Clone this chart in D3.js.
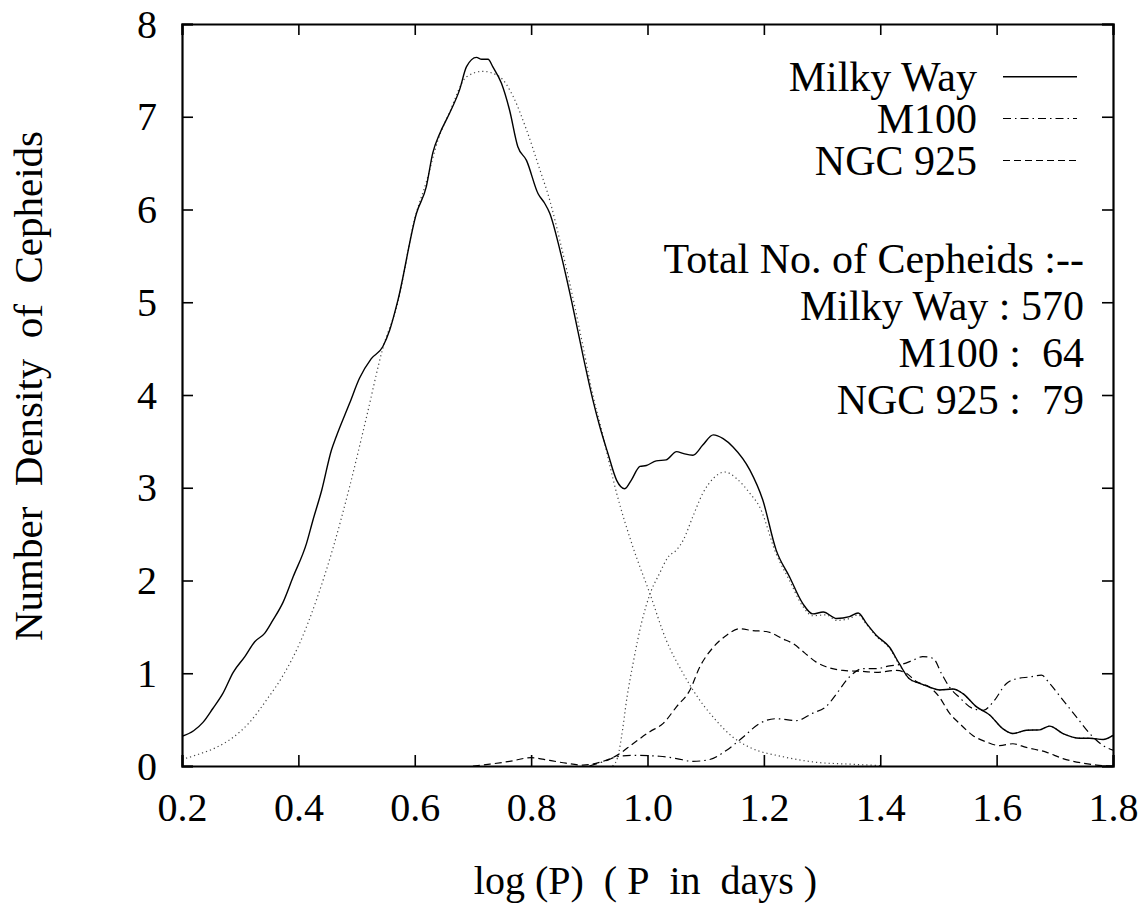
<!DOCTYPE html>
<html>
<head>
<meta charset="utf-8">
<script src="https://cdn.jsdelivr.net/npm/d3@7"></script>
<style>
  html, body { margin: 0; padding: 0; background: #fff; }
  svg { display: block; }
  text { font-family: "Liberation Serif", "Times New Roman", Times, serif; fill: #000; }
</style>
</head>
<body>
<svg id="chart" width="1143" height="911" font-family="Liberation Serif, Times New Roman, serif"></svg>
<script>
// Period distributions of Cepheids: log(P) vs number density

// Milky Way total density (solid)
const mwLogP = [0.20,0.22,0.236,0.253,0.27,0.288,0.308,0.325,0.342,0.356,0.374,0.391,0.414,0.425,0.44,0.457,0.465,0.488,0.505,0.525,0.545,0.557,0.571,0.603,0.62,0.631,0.643,0.66,0.677,0.689,0.706,0.715,0.726,0.734,0.749,0.763,0.777,0.792,0.812,0.823,0.832,0.85,0.87,0.89,0.906,0.918,0.932,0.947,0.961,0.972,0.987,0.998,1.015,1.032,1.05,1.061,1.078,1.095,1.113,1.13,1.147,1.176,1.198,1.221,1.244,1.267,1.284,1.302,1.325,1.347,1.362,1.376,1.393,1.416,1.433,1.45,1.468,1.485,1.502,1.525,1.542,1.565,1.588,1.611,1.628,1.651,1.674,1.691,1.714,1.743,1.76,1.783,1.80];
const mwDensity = [0.32,0.38,0.47,0.62,0.78,1.01,1.18,1.34,1.43,1.57,1.77,2.04,2.40,2.65,2.97,3.41,3.55,3.91,4.18,4.39,4.52,4.70,5.02,5.96,6.25,6.61,6.82,7.04,7.29,7.54,7.64,7.62,7.62,7.54,7.36,7.07,6.68,6.53,6.17,6.07,5.96,5.55,5.0,4.4,3.95,3.66,3.37,3.08,2.99,3.08,3.23,3.24,3.29,3.30,3.39,3.37,3.35,3.46,3.57,3.53,3.44,3.19,2.87,2.33,2.04,1.75,1.64,1.66,1.59,1.61,1.65,1.54,1.41,1.28,1.10,0.94,0.89,0.85,0.82,0.83,0.78,0.64,0.55,0.40,0.35,0.385,0.39,0.43,0.35,0.30,0.30,0.285,0.33];

// Milky Way short-period component (dotted)
const mwShortLogP = [0.20,0.23,0.259,0.288,0.316,0.345,0.374,0.402,0.431,0.46,0.488,0.517,0.545,0.571,0.60,0.62,0.64,0.66,0.689,0.717,0.746,0.769,0.792,0.815,0.832,0.85,0.87,0.89,0.906,0.92,0.947,0.975,1.004,1.032,1.061,1.078,1.118,1.147,1.176,1.233,1.29,1.347,1.40];
const mwShortDensity = [0.07,0.13,0.20,0.31,0.47,0.71,0.98,1.32,1.79,2.36,3.01,3.76,4.50,5.0,5.9,6.3,6.75,7.05,7.43,7.49,7.43,7.22,6.86,6.43,6.1,5.65,5.1,4.5,4.0,3.65,2.94,2.36,1.86,1.36,1.00,0.82,0.49,0.31,0.20,0.10,0.04,0.02,0.005];

// Milky Way long-period component (dotted)
const mwLongLogP = [0.94,0.949,0.955,0.965,0.975,0.99,1.004,1.021,1.035,1.05,1.061,1.078,1.095,1.113,1.133,1.153,1.176,1.193,1.221,1.244,1.267,1.284,1.307,1.325,1.347,1.362,1.376,1.393,1.416,1.433,1.45,1.468,1.485,1.502,1.525,1.542,1.565,1.588,1.611,1.628,1.651,1.674,1.691,1.714,1.743,1.76,1.783,1.80];
const mwLongDensity = [0.0,0.1,0.3,0.75,1.1,1.55,1.85,2.08,2.25,2.33,2.43,2.69,2.94,3.10,3.17,3.10,2.94,2.79,2.29,2.0,1.72,1.62,1.63,1.57,1.59,1.63,1.53,1.40,1.27,1.09,0.94,0.89,0.85,0.82,0.83,0.78,0.64,0.55,0.40,0.35,0.385,0.39,0.43,0.35,0.30,0.30,0.285,0.33];

// M100 (dash-dot)
const m100LogP = [0.90,0.93,0.947,0.975,1.021,1.05,1.078,1.107,1.136,1.164,1.193,1.221,1.256,1.284,1.307,1.325,1.347,1.37,1.393,1.416,1.439,1.456,1.473,1.491,1.505,1.519,1.536,1.559,1.577,1.594,1.617,1.634,1.657,1.677,1.691,1.714,1.737,1.76,1.783,1.80];
const m100Density = [0.0,0.06,0.10,0.115,0.105,0.08,0.05,0.07,0.17,0.31,0.46,0.51,0.49,0.57,0.64,0.78,0.96,1.05,1.05,1.08,1.10,1.14,1.18,1.16,1.00,0.85,0.74,0.62,0.60,0.69,0.89,0.94,0.96,0.98,0.89,0.71,0.53,0.35,0.22,0.17];

// NGC 925 (dashed)
const ngcLogP = [0.70,0.729,0.763,0.80,0.832,0.86,0.889,0.918,0.949,0.975,1.004,1.027,1.05,1.073,1.09,1.113,1.136,1.158,1.181,1.204,1.233,1.25,1.27,1.29,1.307,1.336,1.37,1.393,1.428,1.445,1.462,1.485,1.502,1.519,1.536,1.559,1.582,1.605,1.628,1.651,1.685,1.714,1.749,1.772,1.80];
const ngcDensity = [0.0,0.02,0.05,0.09,0.06,0.03,0.01,0.04,0.12,0.24,0.37,0.46,0.64,0.82,1.07,1.28,1.41,1.48,1.46,1.45,1.37,1.32,1.22,1.12,1.07,1.03,1.02,1.01,1.03,1.00,0.91,0.85,0.74,0.57,0.46,0.33,0.26,0.22,0.24,0.20,0.15,0.08,0.03,0.01,0.0];

const xTicks = [0.2,0.4,0.6,0.8,1.0,1.2,1.4,1.6,1.8];
const yTicks = [0,1,2,3,4,5,6,7,8];

const legendLabels = ["Milky Way", "M100", "NGC 925"];
const totalsLines = ["Total No. of Cepheids :--", "Milky Way : 570", "M100 :\u00a0 64", "NGC 925 :\u00a0 79"];

const xLabel = "log (P)\u00a0 ( P\u00a0 in\u00a0 days )";
const yLabel = "Number\u00a0 Density\u00a0 of\u00a0 Cepheids";

// ---- layout ----
const W = 1143, H = 911;
const margin = { left: 182, right: 30, top: 24, bottom: 145 };
const pw = W - margin.left - margin.right;   // 931
const ph = H - margin.top - margin.bottom;   // 742

const svg = d3.select("#chart");
svg.append("rect").attr("width", W).attr("height", H).attr("fill", "#fff");

const g = svg.append("g").attr("transform", `translate(${margin.left},${margin.top})`);

const x = d3.scaleLinear().domain([0.2, 1.8]).range([0, pw]);
const y = d3.scaleLinear().domain([0, 8]).range([ph, 0]);

g.append("clipPath").attr("id", "plotclip")
  .append("rect").attr("x", 0).attr("y", 0).attr("width", pw).attr("height", ph);

const line = d3.line()
  .x(d => x(d[0]))
  .y(d => y(d[1]))
  .curve(d3.curveMonotoneX);

const zipSeries = (xs, ys) => xs.map((v, i) => [v, ys[i]]);

const styles = {
  solid:   { stroke: "#000", width: 1.4, dash: null },
  dotted:  { stroke: "#444", width: 1.2, dash: "1.2,3" },
  dashdot: { stroke: "#000", width: 1.2, dash: "8,4,1.5,4" },
  dashed:  { stroke: "#000", width: 1.2, dash: "7,4" }
};

const series = [
  { data: zipSeries(mwShortLogP, mwShortDensity), style: styles.dotted },
  { data: zipSeries(mwLongLogP, mwLongDensity), style: styles.dotted },
  { data: zipSeries(ngcLogP, ngcDensity), style: styles.dashed },
  { data: zipSeries(m100LogP, m100Density), style: styles.dashdot },
  { data: zipSeries(mwLogP, mwDensity), style: styles.solid }
];

const curves = g.append("g").attr("clip-path", "url(#plotclip)");
series.forEach(s => {
  curves.append("path")
    .datum(s.data)
    .attr("d", line)
    .attr("fill", "none")
    .attr("stroke", s.style.stroke)
    .attr("stroke-width", s.style.width)
    .attr("stroke-dasharray", s.style.dash)
    .attr("stroke-linejoin", "round");
});

// ---- axes (ticks point inward on all four sides) ----
const fontSize = 40;
const keyFontSize = 42;
const fmtX = d3.format(".1f");

const axB = g.append("g").attr("transform", `translate(0,${ph})`)
  .call(d3.axisBottom(x).tickValues(xTicks).tickFormat(fmtX).tickSize(-11).tickPadding(27));
const axL = g.append("g")
  .call(d3.axisLeft(y).tickValues(yTicks).tickFormat(d3.format("d")).tickSize(-11).tickPadding(25));
const axT = g.append("g")
  .call(d3.axisTop(x).tickValues(xTicks).tickFormat("").tickSize(-11));
const axR = g.append("g").attr("transform", `translate(${pw},0)`)
  .call(d3.axisRight(y).tickValues(yTicks).tickFormat("").tickSize(-11));

[axB, axL, axT, axR].forEach(a => {
  a.attr("font-family", null);
  a.select(".domain").attr("stroke", "#000").attr("stroke-width", 2.2);
  a.selectAll(".tick line").attr("stroke", "#000").attr("stroke-width", 1.6);
  a.selectAll(".tick text")
    .attr("font-size", fontSize)
    .attr("fill", "#000");
});
axL.selectAll(".tick text").attr("dy", "0.33em");

// ---- axis titles ----
svg.append("text")
  .attr("x", margin.left + pw / 2 - 2)
  .attr("y", 894)
  .attr("text-anchor", "middle")
  .attr("font-size", fontSize)
  .text(xLabel);

svg.append("text")
  .attr("transform", "translate(42,386) rotate(-90)")
  .attr("text-anchor", "middle")
  .attr("font-size", 41)
  .text(yLabel);

// ---- legend ----
const legendStyles = [styles.solid, styles.dashdot, styles.dashed];
const legendTextX = 977, legendLineX0 = 1003, legendLineX1 = 1077;
const legendRowY = [76.7, 118.5, 160.5];
legendLabels.forEach((lab, i) => {
  svg.append("text")
    .attr("x", legendTextX)
    .attr("y", legendRowY[i] + 14)
    .attr("text-anchor", "end")
    .attr("font-size", keyFontSize)
    .text(lab);
  const st = legendStyles[i];
  svg.append("line")
    .attr("x1", legendLineX0).attr("x2", legendLineX1)
    .attr("y1", legendRowY[i]).attr("y2", legendRowY[i])
    .attr("stroke", st.stroke)
    .attr("stroke-width", st.width)
    .attr("stroke-dasharray", st.dash);
});

// ---- totals ----
const totalsBaseline = [273, 319.5, 366.5, 413.5];
totalsLines.forEach((t, i) => {
  svg.append("text")
    .attr("x", 1084)
    .attr("y", totalsBaseline[i])
    .attr("text-anchor", "end")
    .attr("font-size", keyFontSize)
    .text(t);
});
</script>
</body>
</html>
